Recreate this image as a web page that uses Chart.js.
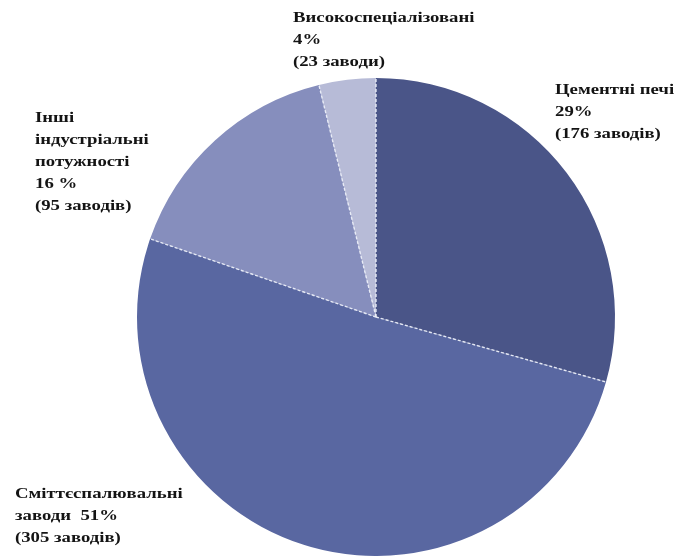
<!DOCTYPE html>
<html>
<head>
<meta charset="utf-8">
<script src="https://cdn.jsdelivr.net/npm/chart.js@4/dist/chart.umd.min.js"></script>
<style>
  html, body { margin: 0; padding: 0; background: #ffffff; }
  #wrap { width: 682px; height: 556px; position: relative; }
</style>
</head>
<body>
<div id="wrap"><canvas id="c" width="682" height="556"></canvas></div>
<script>
// Plant types and the number of plants of each type
const categories = ['Цементні печі', 'Сміттєспалювальні заводи', 'Інші індустріальні потужності', 'Високоспеціалізовані'];
const plants = [176, 305, 95, 23];
const percents = [29, 51, 16, 4];
const sliceColors = ['#4a5588', '#5967a1', '#868ebd', '#b7bbd7'];

// Label text lines for each slice
const labelLines = [
  ['Цементні печі', percents[0] + '%', '(' + plants[0] + ' заводів)'],
  ['Сміттєспалювальні', 'заводи  ' + percents[1] + '%', '(' + plants[1] + ' заводів)'],
  ['Інші', 'індустріальні', 'потужності', percents[2] + ' %', '(' + plants[2] + ' заводів)'],
  ['Високоспеціалізовані', percents[3] + '%', '(' + plants[3] + ' заводи)']
];
// Where each label block sits relative to the pie centre (dx, dy of first line)
const labelOffsets = [
  [179, -227],
  [-361, 177],
  [-341, -199],
  [-83, -299]
];

// Dashed white separators between slices
const separatorPlugin = {
  id: 'separators',
  afterDatasetsDraw(chart) {
    const ctx = chart.ctx;
    const meta = chart.getDatasetMeta(0);
    ctx.save();
    ctx.strokeStyle = 'rgba(235,238,248,0.95)';
    ctx.lineWidth = 1.4;
    ctx.setLineDash([3, 2]);
    meta.data.forEach(arc => {
      const p = arc.getProps(['x', 'y', 'startAngle', 'outerRadius'], true);
      ctx.beginPath();
      ctx.moveTo(p.x, p.y);
      ctx.lineTo(p.x + Math.cos(p.startAngle) * p.outerRadius, p.y + Math.sin(p.startAngle) * p.outerRadius);
      ctx.stroke();
    });
    ctx.restore();
  }
};

// Bold multi-line category labels around the pie (wide serif lettering)
const labelPlugin = {
  id: 'sliceLabels',
  afterDraw(chart) {
    const ctx = chart.ctx;
    const arc = chart.getDatasetMeta(0).data[0];
    const cx = arc.x, cy = arc.y;
    const stretch = 1.25;
    ctx.save();
    ctx.fillStyle = '#141414';
    ctx.font = 'bold 15px "Liberation Serif", "Times New Roman", serif';
    ctx.textAlign = 'left';
    ctx.textBaseline = 'middle';
    labelLines.forEach((lines, i) => {
      const [dx, dy] = labelOffsets[i];
      lines.forEach((t, j) => {
        const x = cx + dx, y = cy + dy + j * 22;
        ctx.save();
        ctx.translate(x, y);
        ctx.scale(stretch, 1);
        ctx.fillText(t, 0, 0);
        ctx.restore();
      });
    });
    ctx.restore();
  }
};

new Chart(document.getElementById('c'), {
  type: 'pie',
  data: {
    labels: categories,
    datasets: [{
      data: plants,
      backgroundColor: sliceColors,
      borderWidth: 0
    }]
  },
  options: {
    responsive: false,
    animation: false,
    rotation: 0,
    layout: { padding: { left: 137, right: 67, top: 78, bottom: 0 } },
    plugins: {
      legend: { display: false },
      tooltip: { enabled: false },
      title: { display: false }
    }
  },
  plugins: [separatorPlugin, labelPlugin]
});
</script>
</body>
</html>
